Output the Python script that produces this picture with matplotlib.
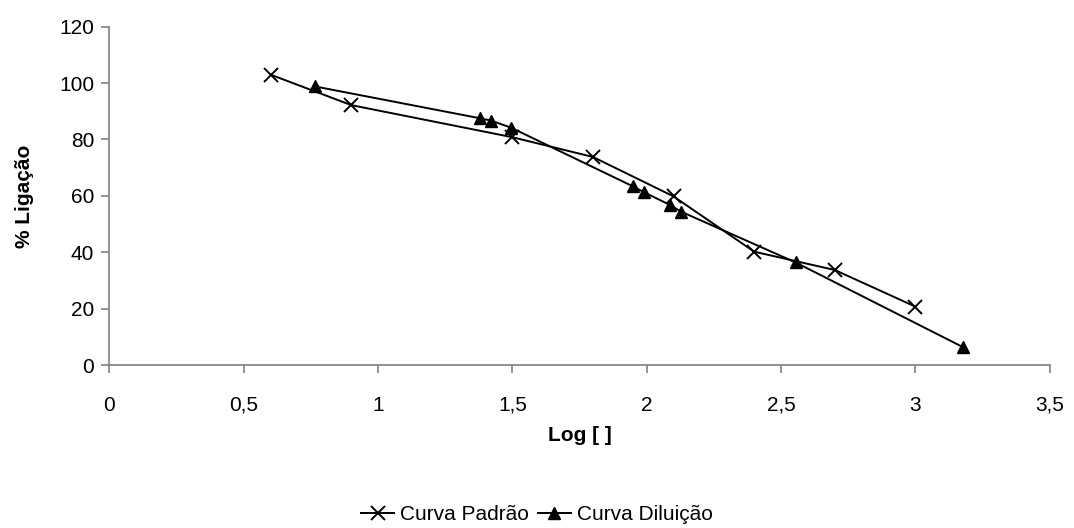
import matplotlib
matplotlib.use("Agg")
import matplotlib.pyplot as plt
from matplotlib.ticker import FuncFormatter

plt.rcParams["font.family"] = ["Liberation Sans", "DejaVu Sans"]

# data
padrao_x = [0.6, 0.9, 1.5, 1.8, 2.1, 2.4, 2.7, 3.0]
padrao_y = [103, 92.2, 80.8, 73.8, 59.8, 40.2, 33.7, 20.7]

diluicao_x = [0.766, 1.381, 1.420, 1.495, 1.948, 1.990, 2.086, 2.128, 2.554, 3.178]
diluicao_y = [98.8, 87.5, 86.7, 84.2, 63.4, 61.3, 56.8, 54.4, 36.4, 6.3]

xticks = [0, 0.5, 1, 1.5, 2, 2.5, 3, 3.5]
yticks = [0, 20, 40, 60, 80, 100, 120]

fig = plt.figure(figsize=(10.74, 5.28), dpi=100)
ax = fig.add_axes([0.1018, 0.3087, 0.8756, 0.6407])

ax.plot(padrao_x, padrao_y, color="black", lw=1.4, marker="x",
        ms=10, mew=1.4, label="Curva Padrão")
ax.plot(diluicao_x, diluicao_y, color="black", lw=1.4, marker="^",
        ms=9, label="Curva Diluição")

ax.set_xlim(0, 3.5)
ax.set_ylim(0, 120)
ax.set_xticks(xticks)
ax.set_yticks(yticks)

comma = FuncFormatter(lambda v, p: ("%g" % v).replace(".", ","))
ax.xaxis.set_major_formatter(comma)
ax.yaxis.set_major_formatter(comma)

for side in ["top", "right"]:
    ax.spines[side].set_visible(False)
for side in ["left", "bottom"]:
    ax.spines[side].set_color("#808080")
    ax.spines[side].set_linewidth(1.2)
ax.tick_params(axis="both", colors="#808080", labelcolor="black",
               labelsize=15, length=6, width=1.2, direction="out")
ax.tick_params(axis="x", pad=16)
ax.tick_params(axis="y", pad=5)

ax.set_xlabel("Log [ ]", fontsize=15, fontweight="bold", labelpad=8)
ax.set_ylabel("% Ligação", fontsize=15, fontweight="bold", labelpad=18)

fig.legend(loc="lower center", bbox_to_anchor=(0.5, -0.028), ncol=2,
           frameon=False, fontsize=15, handlelength=1.6, handletextpad=0.3,
           columnspacing=0.4)

fig.savefig("out.png", dpi=100, facecolor="white")
